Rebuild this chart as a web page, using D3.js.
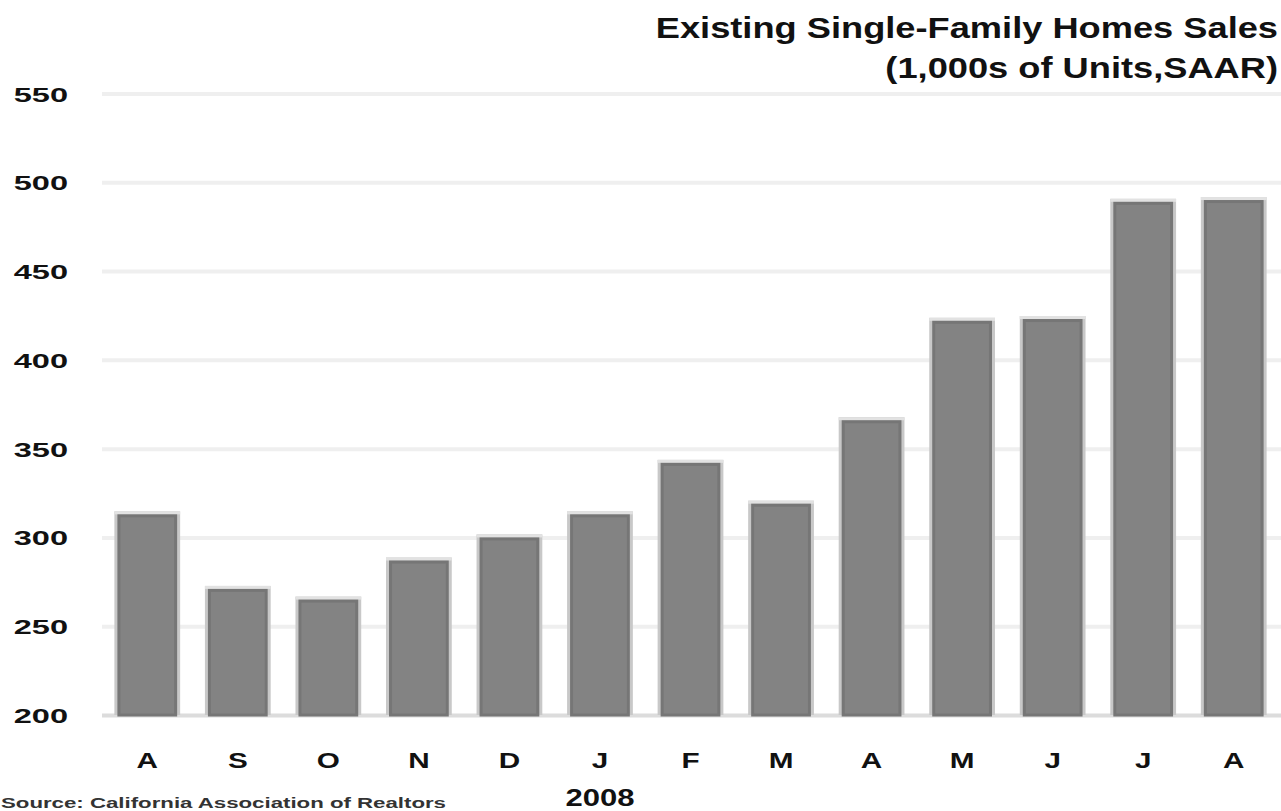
<!DOCTYPE html>
<html>
<head>
<meta charset="utf-8">
<script src="https://cdn.jsdelivr.net/npm/d3@7"></script>
<style>
  html, body { margin: 0; padding: 0; background: #fff; overflow: hidden; }
  svg { display: block; }
  text { font-family: "Liberation Sans", Arial, sans-serif; }
</style>
</head>
<body>
<svg id="chart" width="1281" height="811"></svg>
<script>
// Monthly periods, Aug 2007 – Aug 2008
const periods = ["2007-08","2007-09","2007-10","2007-11","2007-12","2008-01","2008-02",
                 "2008-03","2008-04","2008-05","2008-06","2008-07","2008-08"];
const monthLabels = ["A","S","O","N","D","J","F","M","A","M","J","J","A"];
// Existing single-family home sales, thousands of units (SAAR)
const sales = [313, 271, 265, 287, 300, 313, 342, 319, 366, 422, 423, 489, 490];
const yTicks = [200, 250, 300, 350, 400, 450, 500, 550];
const titleLines = ["Existing Single-Family Homes Sales", "(1,000s of Units,SAAR)"];
const yearLabel = "2008";
const sourceNote = "Source: California Association of Realtors";

const svg = d3.select("#chart");
const plotLeft = 102, plotRight = 1279, plotTop = 93.5, plotBottom = 715;

const x = d3.scaleBand().domain(periods).range([plotLeft, plotRight])
  .paddingInner(0.34).paddingOuter(0.17);
const y = d3.scaleLinear().domain([200, 550]).range([plotBottom, plotTop]);

// horizontal grid lines
const grid = svg.append("g").attr("transform", `translate(${plotLeft},0)`)
  .call(d3.axisLeft(y).tickValues(yTicks).tickSize(-(1281 - plotLeft)).tickFormat(""));
grid.select(".domain").remove();
grid.selectAll(".tick line")
  .attr("stroke", d => d === 200 ? "#dcdcdc" : "#efefef")
  .attr("stroke-width", 4);

// y-axis labels (wide bold numerals)
const yAxis = svg.append("g").attr("transform", `translate(68,0)`)
  .call(d3.axisLeft(y).tickValues(yTicks).tickSize(0).tickPadding(0));
yAxis.select(".domain").remove();
yAxis.selectAll(".tick text")
  .attr("x", 0).attr("dy", null).attr("y", 7.5)
  .attr("text-anchor", "end")
  .attr("font-size", 21).attr("font-weight", "bold").attr("fill", "#111")
  .attr("transform", "scale(1.55,1)");

// bars: soft light rim, mid-grey body with a slightly darker edge
const bars = svg.append("g").selectAll("g.bar").data(periods.map((p, i) => ({p, v: sales[i]})))
  .join("g").attr("class", "bar");
bars.append("rect")
  .attr("x", d => x(d.p) - 3).attr("width", x.bandwidth() + 6)
  .attr("y", d => y(d.v) - 3).attr("height", d => plotBottom - y(d.v) + 3)
  .attr("fill", "#c8c8c8");
bars.append("rect")
  .attr("x", d => x(d.p) - 3).attr("width", x.bandwidth() + 6)
  .attr("y", d => y(d.v) - 3).attr("height", 3)
  .attr("fill", "#e2e2e2");
bars.append("rect")
  .attr("x", d => x(d.p) + 1.5).attr("width", x.bandwidth() - 3)
  .attr("y", d => y(d.v) + 1.5).attr("height", d => plotBottom - y(d.v) - 1.5)
  .attr("fill", "#838383").attr("stroke", "#767676").attr("stroke-width", 3);

// x-axis month labels
const xAxis = svg.append("g").attr("transform", `translate(0,768)`)
  .call(d3.axisBottom(x).tickSize(0).tickPadding(0).tickFormat((d, i) => monthLabels[i]));
xAxis.select(".domain").remove();
xAxis.selectAll(".tick text")
  .attr("dy", null).attr("y", 0)
  .attr("font-size", 22).attr("font-weight", "bold").attr("fill", "#111")
  .attr("transform", "scale(1.35,1)");

// year marker under January
svg.append("text")
  .attr("transform", `translate(${x("2008-01") + x.bandwidth() / 2},806) scale(1.35,1)`)
  .attr("text-anchor", "middle")
  .attr("font-size", 23).attr("font-weight", "bold").attr("fill", "#111")
  .text(yearLabel);

// title, right aligned
svg.selectAll("text.title").data(titleLines).join("text").attr("class", "title")
  .attr("transform", (d, i) => `translate(1278,${38 + i * 40}) scale(1.25,1)`)
  .attr("text-anchor", "end")
  .attr("font-size", 29).attr("font-weight", "bold").attr("fill", "#111")
  .text(d => d);

// source note along the bottom edge
svg.append("text")
  .attr("x", 1).attr("y", 808)
  .attr("textLength", 445).attr("lengthAdjust", "spacingAndGlyphs")
  .attr("font-size", 14).attr("font-weight", "bold").attr("fill", "#333")
  .text(sourceNote);
</script>
</body>
</html>
